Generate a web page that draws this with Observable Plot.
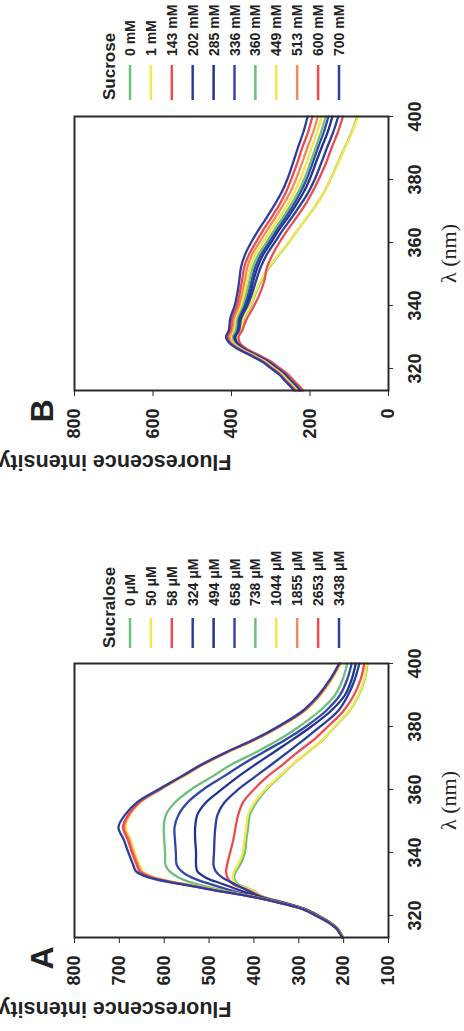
<!DOCTYPE html>
<html><head><meta charset="utf-8">
<script src="https://cdn.jsdelivr.net/npm/d3@7"></script>
<script src="https://cdn.jsdelivr.net/npm/@observablehq/plot@0.6"></script>
<style>
html,body{margin:0;padding:0;background:#fff;overflow:hidden;width:464px;height:1031px;}
#fig{position:absolute;left:0;top:0;width:1031px;height:464px;transform-origin:0 0;transform:translate(0,1031px) rotate(-90deg);font-family:"Liberation Sans",Arial,sans-serif;}
.panel{position:absolute;top:0;}
#legend{position:absolute;left:0;top:0;}
</style></head><body><div id="fig"></div>
<script>
// wavelength grid (nm)
const wavelengths = [313, 316, 318, 320, 322, 324, 326, 328, 330, 332, 334, 336, 340, 344, 348, 352, 356, 360, 364, 368, 372, 376, 380, 385, 390, 395, 400];

// Panel A : sucralose
const sucraloseTitle = "Sucralose";
const sucraloseLabels = ["0 μM", "50 μM", "58 μM", "324 μM", "494 μM", "658 μM", "738 μM", "1044 μM", "1855 μM", "2653 μM", "3438 μM"];
const sucraloseColors = ["#6cc07a", "#f5e64b", "#ec4c4f", "#2c3f9e", "#1f3590", "#3347a8", "#6cc07a", "#f5e64b", "#f28a5e", "#ec4c4f", "#2c3f9e"];
const sucraloseIntensity = [
  [202, 214, 232, 256, 285, 330, 380, 403, 436, 444, 440, 431, 420, 417, 413, 409, 394, 372, 343, 313, 278, 245, 219, 187, 166, 153, 147],
  [201, 214, 232, 256, 285, 330, 381, 405, 440, 447, 444, 436, 425, 421, 417, 413, 398, 375, 345, 314, 279, 246, 220, 188, 167, 154, 148],
  [201, 215, 233, 257, 286, 331, 383, 412, 447, 459, 462, 460, 453, 446, 441, 435, 424, 400, 371, 335, 301, 265, 235, 200, 177, 162, 154],
  [202, 216, 234, 258, 287, 333, 386, 416, 443, 470, 485, 490, 489, 488, 486, 481, 465, 435, 398, 360, 323, 287, 252, 212, 190, 175, 165],
  [202, 216, 234, 259, 288, 335, 390, 432, 470, 507, 526, 529, 529, 531, 531, 526, 506, 472, 436, 396, 354, 312, 272, 228, 197, 182, 173],
  [202, 216, 234, 260, 289, 337, 396, 452, 499, 538, 561, 572, 574, 576, 577, 568, 547, 513, 469, 425, 377, 327, 284, 239, 208, 192, 182],
  [202, 216, 234, 260, 289, 338, 400, 471, 529, 567, 588, 597, 598, 600, 601, 596, 575, 540, 494, 449, 393, 342, 299, 253, 219, 202, 192],
  [202, 217, 236, 262, 291, 342, 403, 481, 555, 620, 648, 655, 666, 675, 686, 676, 652, 607, 559, 511, 455, 393, 341, 286, 251, 226, 206],
  [203, 218, 237, 263, 292, 343, 404, 483, 558, 624, 652, 658, 669, 678, 689, 678, 654, 609, 561, 513, 457, 395, 343, 288, 253, 228, 208],
  [203, 218, 237, 263, 292, 344, 405, 485, 561, 627, 655, 661, 672, 681, 692, 680, 655, 610, 562, 514, 458, 396, 344, 289, 254, 229, 209],
  [203, 217, 236, 262, 291, 343, 407, 488, 566, 633, 663, 669, 680, 690, 702, 687, 660, 613, 564, 516, 460, 398, 346, 291, 256, 230, 210]
];

// Panel B : sucrose
const sucroseTitle = "Sucrose";
const sucroseLabels = ["0 mM", "1 mM", "143 mM", "202 mM", "285 mM", "336 mM", "360 mM", "449 mM", "513 mM", "600 mM", "700 mM"];
const sucroseColors = ["#6cc07a", "#f5e64b", "#ec4c4f", "#2c3f9e", "#1f3590", "#3347a8", "#6cc07a", "#f5e64b", "#f28a5e", "#ec4c4f", "#2c3f9e"];
const sucroseIntensity = [
  [221, 244, 259, 280, 301, 331, 362, 382, 386, 376, 372, 368, 350, 338, 323, 304, 280, 254, 231, 207, 184, 164, 148, 130, 112, 94, 80],
  [222, 245, 260, 281, 302, 332, 363, 383, 387, 377, 373, 370, 352, 340, 325, 306, 281, 254, 231, 207, 184, 164, 148, 129, 111, 93, 78],
  [217, 240, 255, 276, 297, 327, 358, 378, 382, 373, 367, 360, 342, 327, 316, 310, 296, 278, 257, 234, 212, 194, 178, 160, 145, 129, 116],
  [224, 247, 262, 283, 304, 334, 365, 385, 390, 381, 378, 375, 359, 347, 337, 326, 311, 290, 269, 246, 224, 204, 188, 172, 157, 141, 128],
  [227, 250, 265, 286, 307, 337, 368, 388, 393, 385, 382, 379, 364, 352, 344, 334, 320, 299, 279, 256, 235, 216, 201, 186, 171, 155, 143],
  [229, 252, 267, 288, 309, 339, 370, 391, 396, 388, 385, 383, 368, 357, 349, 340, 326, 305, 285, 263, 242, 224, 209, 194, 180, 165, 153],
  [231, 254, 269, 290, 311, 341, 372, 393, 399, 391, 388, 386, 372, 362, 354, 346, 332, 311, 291, 269, 248, 230, 215, 200, 186, 172, 160],
  [233, 256, 271, 292, 313, 343, 374, 396, 402, 395, 392, 390, 376, 367, 360, 353, 340, 320, 300, 278, 257, 239, 225, 210, 196, 182, 170],
  [236, 259, 274, 295, 316, 346, 377, 399, 406, 399, 396, 394, 381, 373, 366, 360, 348, 329, 309, 288, 268, 250, 236, 221, 207, 192, 180],
  [238, 261, 276, 297, 318, 348, 379, 402, 410, 403, 400, 398, 386, 379, 373, 368, 356, 338, 319, 298, 278, 261, 248, 233, 220, 205, 194],
  [240, 263, 278, 299, 320, 350, 381, 405, 414, 407, 405, 403, 392, 385, 380, 376, 366, 350, 331, 310, 290, 272, 258, 244, 231, 217, 206]
];

const xTicks = [320, 340, 360, 380, 400];
const yTicksA = [100, 200, 300, 400, 500, 600, 700, 800];
const yTicksB = [0, 200, 400, 600, 800];
const yLabel = "Fluorescence intensity (a.u.)";
const xLabel = "λ (nm)";

function toRows(labels, table) {
  const out = [];
  labels.forEach((s, i) => wavelengths.forEach((w, j) => out.push({series: s, wl: w, value: table[i][j]})));
  return out;
}

const FONT = "'Liberation Sans', Arial, sans-serif";

function panel(letter, labels, colors, table, yDomain, yTicks) {
  return Plot.plot({
    width: 380, height: 464,
    marginLeft: 93, marginRight: 13, marginTop: 74, marginBottom: 76,
    style: {fontFamily: FONT, fontWeight: "bold", fontSize: "18px", color: "#222", background: "transparent", overflow: "visible"},
    x: {domain: [313, 400]},
    y: {domain: yDomain},
    color: {domain: labels, range: colors},
    marks: [
      Plot.line(toRows(labels, table), {x: "wl", y: "value", z: "series", stroke: "series", strokeWidth: 2.3, curve: "catmull-rom"}),
      Plot.frame({stroke: "#2a2a2a", strokeWidth: 2}),
      Plot.axisX({ticks: xTicks, tickSize: 5, tickPadding: 15, label: null, fontSize: 18, fontWeight: "bold", stroke: "#2a2a2a"}),
      Plot.axisY({ticks: yTicks, tickSize: 5, tickPadding: 13, label: null, fontSize: 18, fontWeight: "bold", stroke: "#2a2a2a"}),
      Plot.text([letter], {text: d => d, frameAnchor: "top-left", dx: -32, dy: -44, fontSize: 32, fontWeight: "bold", fill: "#222"}),
      Plot.text([yLabel], {text: d => d, frameAnchor: "left", dx: -71, rotate: -90, fontSize: 21.5, fontWeight: "bold", fill: "#222"}),
      Plot.text([xLabel], {text: d => d, frameAnchor: "bottom", dy: 67, fontSize: 22, fontWeight: "normal", fontFamily: "'Liberation Serif', 'Times New Roman', serif", fill: "#222"})
    ]
  });
}

const fig = document.getElementById("fig");
const pA = panel("A", sucraloseLabels, sucraloseColors, sucraloseIntensity, [100, 800], yTicksA);
pA.classList.add("panel"); pA.style.left = "0px";
fig.appendChild(pA);
const pB = panel("B", sucroseLabels, sucroseColors, sucroseIntensity, [0, 800], yTicksB);
pB.classList.add("panel"); pB.style.left = "547px";
fig.appendChild(pB);

// legends
const svg = d3.select(fig).append("svg").attr("id", "legend").attr("width", 1031).attr("height", 464)
  .style("font-family", FONT).style("font-weight", "bold");
function legend(x0, lineLen, textX, title, labels, colors) {
  const g = svg.append("g");
  g.append("text").attr("x", x0).attr("y", 114.5).attr("font-size", 17).attr("fill", "#222").text(title);
  labels.forEach((lab, i) => {
    const v = 130 + 20.9 * i;
    g.append("line").attr("x1", x0).attr("x2", x0 + lineLen).attr("y1", v).attr("y2", v)
      .attr("stroke", colors[i]).attr("stroke-width", 2.5);
    g.append("text").attr("x", textX).attr("y", v).attr("dy", "0.36em").attr("font-size", 14)
      .attr("fill", "#222").text(lab);
  });
}
legend(383, 30, 425, sucraloseTitle, sucraloseLabels, sucraloseColors);
legend(931, 35, 975, sucroseTitle, sucroseLabels, sucroseColors);
</script>
</body></html>
